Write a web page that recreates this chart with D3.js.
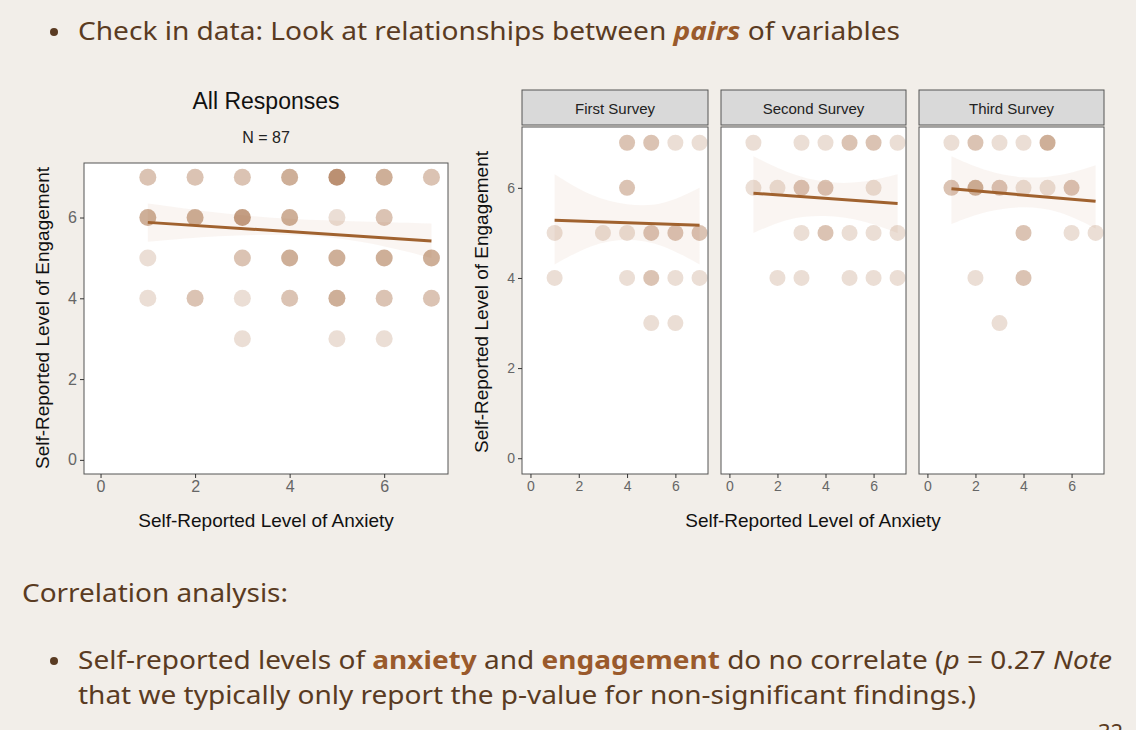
<!DOCTYPE html>
<html><head><meta charset="utf-8">
<script src="https://cdn.jsdelivr.net/npm/d3@7"></script>
<style>body{margin:0;background:#f2eee9}svg{display:block}</style>
</head><body>
<svg id="c" width="1136" height="730"></svg>
<script>
// [anxiety, engagement, count]
const allPoints = [
 [1,7,2],[2,7,2],[3,7,2],[4,7,3],[5,7,5],[6,7,3],[7,7,2],
 [1,6,3],[2,6,3],[3,6,4],[4,6,3],[5,6,1],[6,6,2],
 [1,5,1],[3,5,2],[4,5,3],[5,5,3],[6,5,3],[7,5,3],
 [1,4,1],[2,4,2],[3,4,1],[4,4,2],[5,4,3],[6,4,2],[7,4,2],
 [3,3,1],[5,3,1],[6,3,1]];
const facetNames = ["First Survey","Second Survey","Third Survey"];
const facetPoints = [
 [[4,7,2],[5,7,2],[6,7,1],[7,7,1],[4,6,2],[1,5,1],[3,5,1],[4,5,1],[5,5,2],[6,5,2],[7,5,2],[1,4,1],[4,4,1],[5,4,2],[6,4,1],[7,4,1],[5,3,1],[6,3,1]],
 [[1,7,1],[3,7,1],[4,7,1],[5,7,2],[6,7,2],[7,7,1],[1,6,1],[2,6,1],[3,6,2],[4,6,2],[6,6,1],[3,5,1],[4,5,2],[5,5,1],[6,5,1],[7,5,1],[2,4,1],[3,4,1],[5,4,1],[6,4,1],[7,4,1]],
 [[1,7,1],[2,7,2],[3,7,1],[4,7,1],[5,7,3],[1,6,2],[2,6,3],[3,6,2],[4,6,1],[5,6,1],[6,6,2],[4,5,2],[6,5,1],[7,5,1],[2,4,1],[4,4,2],[3,3,1]]];
const allFit = [[1,5.88],[7,5.42]];
const facetFits = [[[1,5.28],[7,5.17]],[[1,5.88],[7,5.65]],[[1,5.98],[7,5.70]]];
const bandX = [1,2.5,4,5.5,7];
const allBand = [[5.4,5.55,5.6,5.45,5.0],[6.35,6.1,5.95,5.9,5.85]];
const facetBands = [
 [[4.3,4.75,4.9,4.75,4.3],[6.3,5.8,5.6,5.6,6.0]],
 [[5.0,5.35,5.4,5.3,5.0],[6.7,6.3,6.1,6.1,6.3]],
 [[5.2,5.5,5.6,5.5,5.1],[6.7,6.35,6.2,6.25,6.5]]];
const ticks = [0,2,4,6];

const svg = d3.select("#c");
const txt = "#5a3b22", hi = "#9a5a2c", pt = "#9a5a2c", line = "#a0622f";
const alpha = n => 1 - Math.pow(0.8, n);
const F = "Liberation Sans, Arial";

function panel(g, x0, x1, y0, y1, pts, fit, band, r, showY, fs) {
  const x = d3.scaleLinear().domain([-0.35,7.35]).range([x0,x1]);
  const y = d3.scaleLinear().domain([-0.35,7.35]).range([y1,y0]);
  g.append("rect").attr("x",x0).attr("y",y0).attr("width",x1-x0).attr("height",y1-y0).attr("fill","#fff");
  const area = d3.area().x((d,i)=>x(bandX[i])).y0((d,i)=>y(band[0][i])).y1(d=>y(d)).curve(d3.curveBasis);
  g.append("path").attr("d",area(band[1])).attr("fill","#ecd9cc").attr("opacity",0.25);
  g.selectAll(null).data(pts).join("circle").attr("cx",d=>x(d[0])).attr("cy",d=>y(d[1]))
    .attr("r",r).attr("fill",pt).attr("fill-opacity",d=>alpha(d[2]));
  g.append("path").attr("d",d3.line().x(d=>x(d[0])).y(d=>y(d[1]))(fit))
    .attr("stroke",line).attr("stroke-width",3).attr("fill","none");
  g.append("rect").attr("x",x0).attr("y",y0).attr("width",x1-x0).attr("height",y1-y0)
    .attr("fill","none").attr("stroke","#555").attr("stroke-width",1);
  const ax = g.append("g").attr("transform",`translate(0,${y1})`).call(d3.axisBottom(x).tickValues(ticks).tickSize(4).tickPadding(3));
  ax.select(".domain").remove();
  ax.selectAll("line").attr("stroke","#333");
  ax.selectAll("text").attr("fill","#666").attr("font-size",fs).attr("font-family",F);
  if (showY) {
    const ay = g.append("g").attr("transform",`translate(${x0},0)`).call(d3.axisLeft(y).tickValues(ticks).tickSize(4).tickPadding(3));
    ay.select(".domain").remove();
    ay.selectAll("line").attr("stroke","#333");
    ay.selectAll("text").attr("fill","#666").attr("font-size",fs).attr("font-family",F);
  }
}

// top bullet
svg.append("circle").attr("cx",54).attr("cy",32).attr("r",4).attr("fill",txt);
const t1 = svg.append("text").attr("x",78).attr("y",40).attr("font-family","Noto Sans").attr("font-size",25).attr("fill",txt)
  .attr("textLength",822).attr("lengthAdjust","spacingAndGlyphs");
t1.append("tspan").text("Check in data: Look at relationships between ");
t1.append("tspan").text("pairs").attr("font-weight","bold").attr("font-style","italic").attr("fill",hi);
t1.append("tspan").text(" of variables");

// left panel
panel(svg.append("g"), 84, 448, 163, 474, allPoints, allFit, allBand, 8.5, true, 16);
svg.append("text").attr("x",266).attr("y",109).attr("text-anchor","middle").attr("font-family",F).attr("font-size",23).attr("fill","#111").text("All Responses");
svg.append("text").attr("x",266).attr("y",143).attr("text-anchor","middle").attr("font-family",F).attr("font-size",16).attr("fill","#222").text("N = 87");
svg.append("text").attr("transform","translate(49,318) rotate(-90)").attr("text-anchor","middle").attr("font-family",F).attr("font-size",19).attr("fill","#111").text("Self-Reported Level of Engagement");
svg.append("text").attr("x",266).attr("y",527).attr("text-anchor","middle").attr("font-family",F).attr("font-size",19).attr("fill","#111").text("Self-Reported Level of Anxiety");

// facets
const fx = [[522,708],[721,906],[919,1104]];
facetNames.forEach((nm,i)=>{
  const g = svg.append("g");
  panel(g, fx[i][0], fx[i][1], 127, 474, facetPoints[i], facetFits[i], facetBands[i], 8, i===0, 14);
  g.append("rect").attr("x",fx[i][0]).attr("y",90).attr("width",fx[i][1]-fx[i][0]).attr("height",35)
    .attr("fill","#d9d9d9").attr("stroke","#555");
  g.append("text").attr("x",(fx[i][0]+fx[i][1])/2).attr("y",114).attr("text-anchor","middle")
    .attr("font-family",F).attr("font-size",15).attr("fill","#222").text(nm);
});
svg.append("text").attr("transform","translate(488,302) rotate(-90)").attr("text-anchor","middle").attr("font-family",F).attr("font-size",19).attr("fill","#111").text("Self-Reported Level of Engagement");
svg.append("text").attr("x",813).attr("y",527).attr("text-anchor","middle").attr("font-family",F).attr("font-size",19).attr("fill","#111").text("Self-Reported Level of Anxiety");

// bottom text
svg.append("text").attr("x",22).attr("y",602).attr("font-family","Noto Sans").attr("font-size",25).attr("fill",txt)
  .attr("textLength",266).attr("lengthAdjust","spacingAndGlyphs").text("Correlation analysis:");
svg.append("circle").attr("cx",54).attr("cy",661).attr("r",4).attr("fill",txt);
const t2 = svg.append("text").attr("x",78).attr("y",669).attr("font-family","Noto Sans").attr("font-size",25).attr("fill",txt)
  .attr("textLength",1034).attr("lengthAdjust","spacingAndGlyphs");
t2.append("tspan").text("Self-reported levels of ");
t2.append("tspan").text("anxiety").attr("font-weight","bold").attr("fill",hi);
t2.append("tspan").text(" and ");
t2.append("tspan").text("engagement").attr("font-weight","bold").attr("fill",hi);
t2.append("tspan").text(" do no correlate (");
t2.append("tspan").text("p").attr("font-style","italic");
t2.append("tspan").text(" = 0.27 ");
t2.append("tspan").text("Note").attr("font-style","italic");
svg.append("text").attr("x",78).attr("y",704).attr("font-family","Noto Sans").attr("font-size",25).attr("fill",txt)
  .attr("textLength",898).attr("lengthAdjust","spacingAndGlyphs").text("that we typically only report the p-value for non-significant findings.)");
svg.append("text").attr("x",1098).attr("y",740).attr("font-family","Noto Sans").attr("font-size",22).attr("fill",txt).text("32");
</script>
</body></html>
